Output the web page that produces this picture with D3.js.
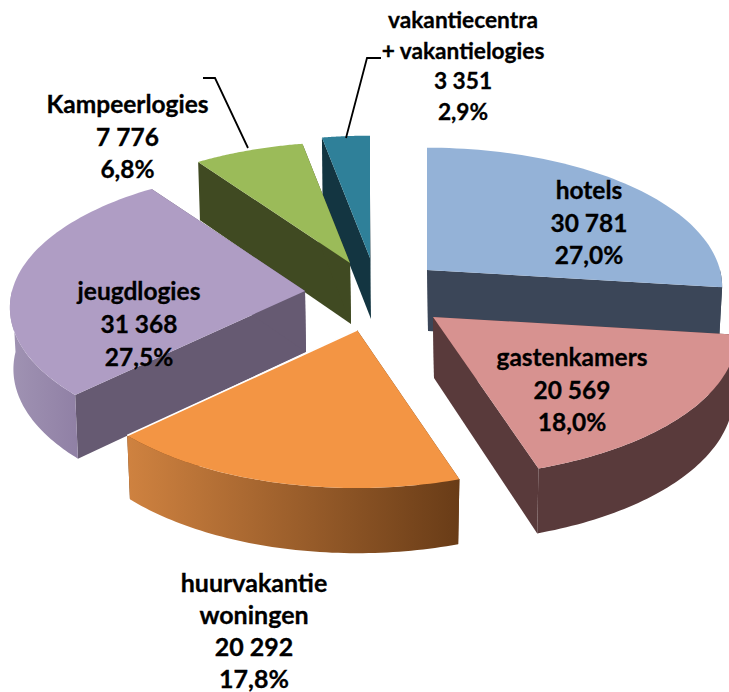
<!DOCTYPE html>
<html><head><meta charset="utf-8">
<script src="https://cdnjs.cloudflare.com/ajax/libs/d3/7.8.5/d3.min.js"></script>
<style>html,body{margin:0;padding:0;background:#fff}svg{display:block}
text{font-family:Lato,"Noto Sans",sans-serif;font-weight:700;fill:#000;stroke:#000;stroke-width:.3px;text-anchor:middle}</style>
</head><body><script>
// data
const categories = ["hotels","gastenkamers","huurvakantie woningen","jeugdlogies","Kampeerlogies","vakantiecentra + vakantielogies"];
const values = [30781,20569,20292,31368,7776,3351];
const labelLines = [["hotels"],["gastenkamers"],["huurvakantie","woningen"],["jeugdlogies"],["Kampeerlogies"],["vakantiecentra","+ vakantielogies"]];

// styles
const topColors = ["#94B2D7","#D79290","#F39544","#AF9DC4","#9BBB59","#2F8099"];
const sideColors = ["#3B4658","#593A3B","#6A3D18","#665A72","#404A22","#133541"];
const wallColors = [["#3B4658","#3B4658"],["#593A3B","#593A3B"],["#CF8240","#693C17"],["#A093B3","#9080A5"],["#404A22","#404A22"],["#133541","#133541"]];
const labelSize=[24.5,24.5,25,24.5,24.5,22.7];

// layout
const W=729,H=692;
const apexes=[[427,270],[433,317],[357,330],[305,291],[350,263],[370,258]];
const sliceScale=[1,1.03,1,1,0.99,1];
const sliceScaleY=[1,1,1.015,1,1,1];
const labelAt=[[589,199],[572,366],[254,592],[139,300],[127.5,113],[463,28]];
const lineH=[32.5,32.5,32,33,32.5,30.5];
const Rx=293,Ry=137,persp=0.12,depth=61;
const leaders=[[[203,78],[215,78],[248,148]],[[346,138],[367,58],[381,58]]];

const svg=d3.select("body").append("svg").attr("width",W).attr("height",H);
const defs=svg.append("defs");
const total=d3.sum(values);
const arcs=d3.pie().sort(null).value(d=>d)(values);
const numFmt=d3.formatLocale({decimal:",",thousands:" ",grouping:[3],currency:["",""]});
const fv=numFmt.format(",d"),fp=numFmt.format(".1%");

const sc=v=>1/(1-persp*v);
const topPt=(i,a)=>{const u=Math.sin(a),v=-Math.cos(a),s=sc(v)*sliceScale[i];return [apexes[i][0]+Rx*u*s,apexes[i][1]+Ry*v*s*sliceScaleY[i]];};
const botPt=(i,a)=>{const u=Math.sin(a),v=-Math.cos(a),s=sc(v)*sliceScale[i];return [apexes[i][0]+Rx*u*s*0.988,apexes[i][1]+Ry*v*s*sliceScaleY[i]+depth*(1+0.5*(sc(v)-1))];};
const apexBot=i=>[apexes[i][0]+1,apexes[i][1]+depth];
const poly=d3.line();
const angles=(a0,a1)=>d3.range(0,61).map(k=>a0+(a1-a0)*k/60);

const order=[5,4,3,0,2,1];
order.forEach(i=>{
  const d=arcs[i],g=svg.append("g");
  // radial faces
  [d.startAngle,d.endAngle].forEach(a=>{
    g.append("path").attr("fill",sideColors[i])
     .attr("d",poly([apexes[i],topPt(i,a),botPt(i,a),apexBot(i)])+"Z");
  });
  // outer wall (visible front part)
  const a0=Math.max(d.startAngle,Math.PI/2),a1=Math.min(d.endAngle,Math.PI*1.5);
  if(a1>a0){
    const as=angles(a0,a1);
    const pts=as.map(a=>topPt(i,a)).concat(as.slice().reverse().map(a=>botPt(i,a)));
    const xs=d3.extent(pts,p=>p[0]);
    const gid="wall"+i;
    const lg=defs.append("linearGradient").attr("id",gid).attr("gradientUnits","userSpaceOnUse")
      .attr("x1",xs[0]).attr("x2",xs[1]).attr("y1",0).attr("y2",0);
    lg.append("stop").attr("offset",0).attr("stop-color",wallColors[i][0]);
    lg.append("stop").attr("offset",1).attr("stop-color",wallColors[i][1]);
    g.append("path").attr("fill",`url(#${gid})`).attr("d",poly(pts)+"Z");
  }
  // top
  const tp=[apexes[i]].concat(angles(d.startAngle,d.endAngle).map(a=>topPt(i,a)));
  g.append("path").attr("fill",topColors[i]).attr("d",poly(tp)+"Z");
  if(i===2){ // light seam along the orange slice's back-left edge
    g.append("path").attr("fill","none").attr("stroke","#fff").attr("stroke-width",1.6)
      .attr("d",poly([apexes[i],topPt(i,d.endAngle)]));
  }
});

leaders.forEach(l=>svg.append("path").attr("fill","none").attr("stroke","#000").attr("stroke-width",1.8).attr("d",poly(l)));

labelLines.forEach((ls,i)=>{
  const rows=ls.concat([fv(values[i]),fp(values[i]/total)]);
  const t=svg.append("text").attr("font-size",labelSize[i]).attr("transform",`translate(${labelAt[i][0]},${labelAt[i][1]})`);
  rows.forEach((r,k)=>t.append("tspan").attr("x",0).attr("y",k*lineH[i]).text(r));
});
</script></body></html>
